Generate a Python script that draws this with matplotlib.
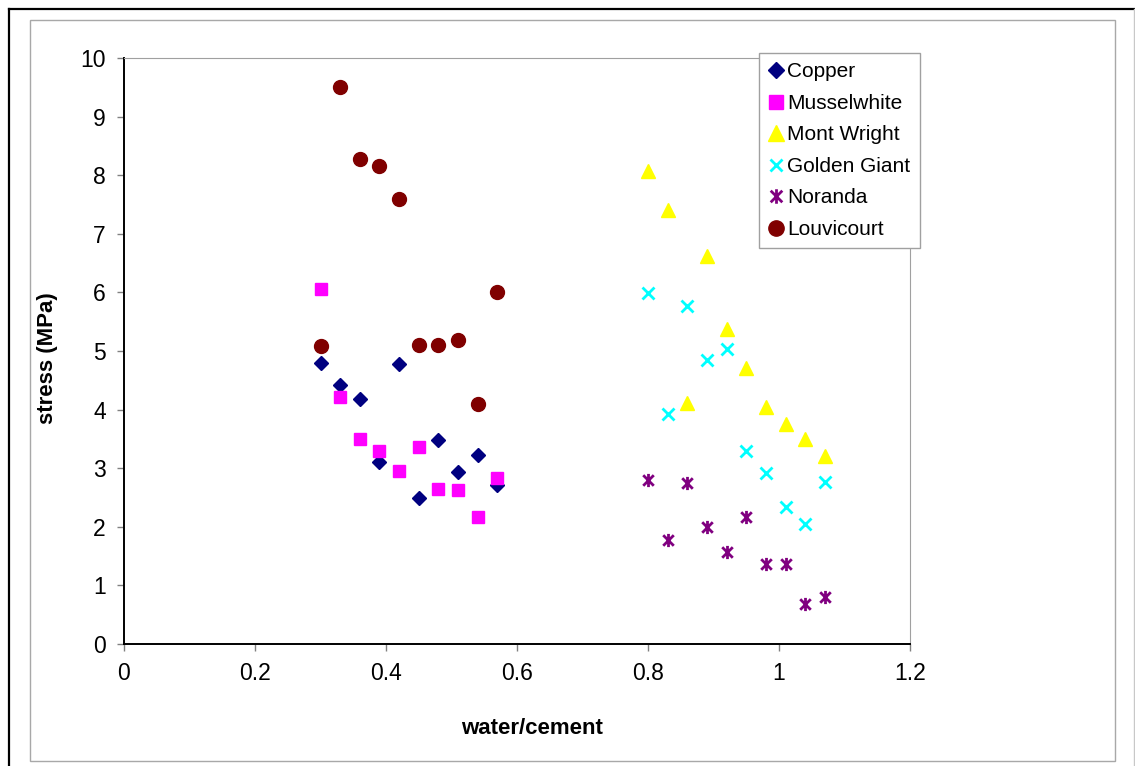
import numpy as np
import matplotlib.pyplot as plt
from matplotlib.path import Path
from matplotlib.lines import Line2D

plt.rcParams['font.family'] = ['Liberation Sans', 'DejaVu Sans']

# water/cement ratios
wc_low = [0.30, 0.33, 0.36, 0.39, 0.42, 0.45, 0.48, 0.51, 0.54, 0.57]
wc_high = [0.80, 0.83, 0.86, 0.89, 0.92, 0.95, 0.98, 1.01, 1.04, 1.07]

# stress (MPa)
copper = [4.80, 4.42, 4.18, 3.10, 4.78, 2.50, 3.48, 2.93, 3.23, 2.72]
musselwhite = [6.06, 4.22, 3.50, 3.30, 2.95, 3.37, 2.65, 2.62, 2.17, 2.83]
louvicourt = [5.09, 9.50, 8.27, 8.15, 7.60, 5.10, 5.11, 5.18, 4.09, 6.01]
mont_wright = [8.07, 7.40, 4.12, 6.62, 5.37, 4.71, 4.04, 3.75, 3.49, 3.20]
golden_giant = [5.99, 3.92, 5.77, 4.85, 5.03, 3.30, 2.91, 2.34, 2.04, 2.76]
noranda = [2.80, 1.77, 2.74, 1.99, 1.57, 2.17, 1.37, 1.37, 0.69, 0.80]

xticks = [0, 0.2, 0.4, 0.6, 0.8, 1.0, 1.2]
xticklabels = ['0', '0.2', '0.4', '0.6', '0.8', '1', '1.2']

W, H = 1135, 766
fig = plt.figure(figsize=(W / 100, H / 100), dpi=100)

def fx(px):
    return px / W

def fy(py):
    return 1 - py / H

# chart frames
fig.add_artist(Line2D([fx(9), fx(9)], [fy(9), 0], color='black', lw=1.6))
fig.add_artist(Line2D([fx(9), 1], [fy(9), fy(9)], color='black', lw=1.6))
fig.add_artist(Line2D([fx(1134), fx(1134)], [fy(9), 0], color='#c8c8c8', lw=1))
fig.add_artist(plt.Rectangle((fx(30), fy(761)), fx(1115) - fx(30), fy(20) - fy(761),
                             fill=False, ec='#a8a8a8', lw=1, transform=fig.transFigure))

ax = fig.add_axes([fx(124), fy(644), fx(910) - fx(124), fy(58) - fy(644)])

# asterisk marker: x with a vertical bar
star = Path([(-1, -1), (1, 1), (-1, 1), (1, -1), (0, -1.25), (0, 1.25)],
            [Path.MOVETO, Path.LINETO, Path.MOVETO, Path.LINETO, Path.MOVETO, Path.LINETO])

ax.plot(wc_low, copper, 'D', ms=7.5, color='#000080', mec='#000080', label='Copper')
ax.plot(wc_low, musselwhite, 's', ms=9, color='#FF00FF', mec='#FF00FF', label='Musselwhite')
ax.plot(wc_high, mont_wright, '^', ms=10, color='#FFFF00', mec='#FFFF00', label='Mont Wright')
ax.plot(wc_high, golden_giant, 'x', ms=8.5, mew=2, color='#00FFFF', label='Golden Giant')
ax.plot(wc_high, noranda, marker=star, ls='none', ms=9.5, mew=2, color='#800080',
        mfc='none', label='Noranda')
ax.plot(wc_low, louvicourt, 'o', ms=10, color='#800000', mec='#800000', label='Louvicourt')

ax.set_xlim(0, 1.2)
ax.set_ylim(0, 10)
ax.set_xticks(xticks)
ax.set_xticklabels(xticklabels)
ax.set_yticks(range(0, 11))
ax.tick_params(labelsize=16.5, length=5, width=1, color='#808080', pad=8)

ax.spines['left'].set_linewidth(1.4)
ax.spines['bottom'].set_linewidth(1.4)
ax.spines['top'].set_color('#a0a0a0')
ax.spines['right'].set_color('#a0a0a0')

fig.text(fx(532), fy(728), 'water/cement', ha='center', va='center',
         fontsize=16, fontweight='bold')
fig.text(fx(47), fy(358), 'stress (MPa)', ha='center', va='center',
         rotation=90, fontsize=16, fontweight='bold')

leg = fig.legend(loc='upper left', bbox_to_anchor=(fx(759), fy(53)), fontsize=15,
                 frameon=True, fancybox=False, edgecolor='#a0a0a0', framealpha=1,
                 handlelength=0.75, handletextpad=0.15, labelspacing=0.6,
                 borderpad=0.45, borderaxespad=0, numpoints=1, markerscale=1.1)
leg.get_frame().set_linewidth(1)

fig.savefig('out.png', dpi=100)
